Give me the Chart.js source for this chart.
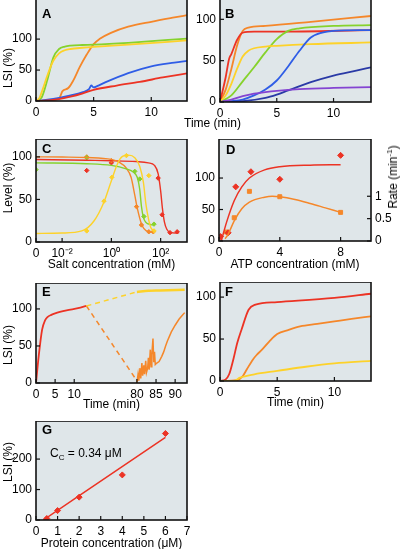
<!DOCTYPE html>
<html lang="en">
<head>
  <meta charset="UTF-8">
  <title>LSI panels A-G</title>
  <script src="https://cdn.jsdelivr.net/npm/chart.js"></script>
  <style>
    body { margin: 0; background: #fff; font-family: "Liberation Sans", Arial, sans-serif; }
    #wrap { position: relative; width: 400px; height: 549px; overflow: hidden; }
    canvas { position: absolute; }
    .lbl { position: absolute; font-size: 12px; line-height: 14px; color: #000; white-space: nowrap; }
    .rot { transform: translate(-50%, -50%) rotate(-90deg); }
    sub, sup { font-size: 8px; line-height: 0; }
  </style>
</head>
<body>
<div id="wrap">
  <canvas id="cA"></canvas>
  <canvas id="cB"></canvas>
  <canvas id="cC"></canvas>
  <canvas id="cD"></canvas>
  <canvas id="cE"></canvas>
  <canvas id="cF"></canvas>
  <canvas id="cG"></canvas>

  <div class="lbl" style="left:184px; top:116px;">Time (min)</div>
  <div class="lbl rot" style="left:8px; top:68px;">LSI (%)</div>
  <div class="lbl rot" style="left:8px; top:188px;">Level (%)</div>
  <div class="lbl rot" style="left:8px; top:345px;">LSI (%)</div>
  <div class="lbl rot" style="left:8px; top:462px;">LSI (%)</div>
  <div class="lbl rot" style="left:393px; top:177px;">Rate (min<sup>-1</sup>)</div>
  <div class="lbl" style="left:50px; top:446px;">C<sub>C</sub> = 0.34 μM</div>
</div>

<script>
  // colours
  const ORANGE = "#f5872a", RED = "#ec3324", GREEN = "#86d22c", YELLOW = "#fdd22a";
  const BLUE = "#2f5de6", NAVY = "#2a3aa6", PURPLE = "#8444d2";

  // ---- A : LSI (%) vs time (min)
  const aXTicks = [0, 5, 10], aYTicks = [0, 50, 100];
  const aGreen = [[0,0],[0.5,6],[1,35],[1.5,70],[2,84],[2.5,88],[3,89.5],[4,90.5],[5,91],[8,94],[13.2,101]];
  const aYellow = [[0,0],[0.3,5],[0.6,20],[1,42],[1.5,65],[2,77],[2.5,82],[3,84],[4,86],[5,87.5],[8,91],[13.2,98]];
  const aOrange = [[0,0],[1,1],[2,4],[2.3,16],[2.8,21],[3.2,32],[3.8,55],[4.4,75],[5,92],[5.5,100],[6.5,110],[8,120],[10,128],[12,135],[13.2,139]];
  const aBlue = [[0,0],[1,2],[2,5],[3,9],[4,14],[4.6,19],[4.8,25],[5,22],[5.3,24],[6,30],[8,45],[10,56],[12,62],[13.2,65]];
  const aRed = [[0,0],[1,1],[2,3],[3,7],[4,12],[5,18],[7,25],[9,31],[11,38],[13.2,45]];

  // ---- B
  const bXTicks = [0, 5, 10], bYTicks = [0, 50, 100];
  const bOrange = [[0,0],[0.5,15],[1,40],[1.5,68],[2,86],[2.5,90],[4,92],[8,97],[13.3,104]];
  const bRed = [[0,0],[0.5,30],[0.8,52],[1,58],[1.5,75],[2,84],[3,85],[5,85],[13.3,87]];
  const bGreen = [[0,0],[1,8],[2,25],[3,42],[4,60],[5,76],[6,86],[7,89],[10,92],[13.3,93]];
  const bYellow = [[0,0],[0.5,8],[1,22],[1.5,40],[2,55],[2.5,62],[3,65],[4,67],[5,68],[8,70],[13.3,72]];
  const bBlue = [[0,0],[1,1],[2,3],[3,8],[4,15],[5,26],[6,43],[7,62],[8,78],[9,84],[10,86],[13.3,87]];
  const bNavy = [[0,0],[2,1],[4,5],[5,9],[6,14],[8,24],[10,32],[12,38],[13.3,42]];
  const bPurple = [[0,0],[1,3],[2,7],[3,10],[4,12],[5,13.5],[7,15.5],[10,17],[13.3,18]];

  // ---- C : level vs salt (x = log10 mM, "0" drawn at -3.06)
  const cXTicks = [-3.06, -2, 0, 2], cXLabels = ["0", "10⁻²", "10⁰", "10²"], cYTicks = [0, 50, 100];
  const cOrangePts = [[-1,100],[0,95.6],[1.02,41.5],[1.22,20],[1.52,12],[1.7,12]];
  const cOrangeFit = [[-3.06,100],[-2,99.8],[-1,99.3],[0,97],[0.3,94],[0.6,87],[0.8,76],[0.95,55],[1.05,40],[1.15,28],[1.25,19],[1.4,13.5],[1.55,12],[1.7,11.5]];
  const cRedPts = [[-1,84],[0,93],[1.9,75],[2.06,32],[2.38,11],[2.67,12]];
  const cRedFit = [[-3.06,97],[-1,96],[0,95.5],[1,94.5],[1.5,93],[1.75,90],[1.9,80],[2,60],[2.07,40],[2.15,24],[2.25,15],[2.4,11],[2.6,10.5],[2.75,11]];
  const cGreenPts = [[-3.06,85],[-1,99],[0.95,83],[1.15,74],[1.32,30],[1.73,21]];
  const cGreenFit = [[-3.06,93],[-1,92],[0,90],[0.6,86],[0.9,82],[1.05,76],[1.15,62],[1.22,42],[1.3,29],[1.4,23],[1.6,20.5],[1.73,20]];
  const cYellowPts = [[-1,13],[-0.3,48],[0.02,76],[0.61,101.5],[1.52,78],[1.73,13]];
  const cYellowFit = [[-3.06,10],[-2,10.5],[-1.2,13],[-0.7,25],[-0.3,47],[0,72],[0.25,92],[0.45,100.5],[0.7,102],[0.95,99],[1.15,89],[1.3,70],[1.4,45],[1.5,28],[1.6,17],[1.73,13]];

  // ---- D : ATP concentration
  const dXTicks = [0, 4, 8], dYTicks = [0, 50, 100], dRateTicks = [0, 0.5, 1];
  const dLevelPts = [[0.1,7],[0.6,13],[1.1,86],[2.1,110],[4,98],[8,136]];
  const dLevelFit = [[0.15,0],[0.5,30],[1,64],[1.5,86],[2,100],[3,113],[4,118],[6,120.5],[8,121]];
  const dRatePts = [[0.5,0.2],[1,0.52],[2,1.11],[4,0.99],[8,0.64]];
  const dRateFit = [[0.4,0.05],[0.6,0.15],[1,0.45],[1.5,0.72],[2,0.87],[3,0.98],[3.5,1],[4,0.99],[5,0.93],[6,0.84],[7,0.74],[8,0.64]];

  // ---- E : broken time axis (0-15, 80-93)
  const eXTicks = [0, 5, 10, 80, 85, 90], eYTicks = [0, 50, 100];
  const eRed = [[0,0],[0.7,36],[1.6,72],[2.4,85],[3,89],[4,92],[5,94],[8,98],[11,101],[13.2,104]];
  const eYellowGap = [[13.2,104],[80,123]];
  const eYellow = [[80,123],[83,124.5],[86,125],[92.5,126]];
  const eOrangeGap = [[13.2,104],[80,3]];
  const eOrange = [[80,0],[80.3,12],[80.5,3],[80.8,20],[81,6],[81.3,27],[81.5,10],[81.8,24],[82,12],[82.3,30],[82.5,14],[82.8,20],[83,34],[83.2,18],[83.5,45],[83.7,22],[83.9,38],[84.2,60],[84.4,28],[84.6,42],[84.8,25],[85.2,27],[85.8,29],[86.5,36],[87,42],[87.5,50],[88,57],[88.5,63],[89,69],[90,78],[91,86],[92,92],[92.5,95]];

  // ---- F
  const fXTicks = [0, 5, 10], fYTicks = [0, 50, 100];
  const fRed = [[0,0],[0.5,2],[0.8,8],[1.17,26],[1.5,45],[1.9,62],[2.5,85],[3.1,91],[5,94],[10,99],[13.2,104]];
  const fOrange = [[0,0],[1.5,1],[2,6],[2.35,14],[2.9,26],[3.2,31],[3.65,37],[4.3,47],[5,56],[6,61],[7,65],[8.5,68],[10,71],[11.5,74],[13.2,77]];
  const fYellow = [[0,0],[1.2,0],[1.75,4],[3,8],[5,12],[7.5,17],[10,21],[13.2,24]];

  // ---- G : protein concentration
  const gXTicks = [0, 1, 2, 3, 4, 5, 6, 7], gYTicks = [0, 100, 200];
  const gPts = [[0.5,5],[1,31],[2,75],[4,148],[6,284]];
  const gFit = [[0.34,0],[6,271]];

  // time position on the broken E axis
  const brk = t => (t < 40 ? t : t - 53.6);

  Chart.defaults.font.family = '"Liberation Sans", Arial, sans-serif';
  Chart.defaults.font.size = 12;
  Chart.defaults.color = "#000";

  const framePlugin = {
    id: "frame",
    beforeDraw(chart) {
      const { ctx, chartArea: a } = chart;
      ctx.save();
      ctx.fillStyle = "#dfe6e9";
      ctx.fillRect(a.left, a.top, a.width, a.height);
      ctx.restore();
    },
    afterDraw(chart, args, opts) {
      const { ctx, chartArea: a } = chart;
      ctx.save();
      ctx.strokeStyle = "#111";
      ctx.lineWidth = 1.6;
      ctx.strokeRect(a.left, a.top, a.width, a.height);
      ctx.lineWidth = 1.2;
      Object.values(chart.scales).forEach(s => {
        s.ticks.forEach(t => {
          const p = s.getPixelForValue(t.value);
          ctx.beginPath();
          if (s.position === "bottom") { ctx.moveTo(p, a.bottom); ctx.lineTo(p, a.bottom - 4); }
          else if (s.position === "left") { ctx.moveTo(a.left, p); ctx.lineTo(a.left + 4, p); }
          else { ctx.moveTo(a.right, p); ctx.lineTo(a.right - 4, p); }
          ctx.stroke();
        });
      });
      if (opts.letter) {
        ctx.fillStyle = "#000";
        ctx.font = 'bold 13px "Liberation Sans", Arial, sans-serif';
        ctx.fillText(opts.letter, opts.lx, opts.ly);
      }
      ctx.restore();
    }
  };

  function xy(arr, f) {
    return arr.map(([x, y]) => ({ x: f ? f(x) : x, y }));
  }

  function line(arr, color, extra) {
    return Object.assign({
      data: xy(arr), borderColor: color, borderWidth: 1.8, pointRadius: 0,
      fill: false, cubicInterpolationMode: "monotone"
    }, extra);
  }

  function dots(arr, color, style, r, extra) {
    return Object.assign({
      data: xy(arr), showLine: false, pointStyle: style, pointRadius: r,
      backgroundColor: color, borderColor: color, borderWidth: 1
    }, extra);
  }

  function axis(pos, min, max, ticks, size, labels, title) {
    return {
      type: "linear", position: pos, min: min, max: max,
      grid: { display: false, drawTicks: false }, border: { display: false },
      afterBuildTicks: s => { s.ticks = ticks.map(v => ({ value: v })); },
      afterFit: s => {
        if (s.isHorizontal()) s.height = size; else s.width = size;
        s.paddingLeft = s.paddingRight = s.paddingTop = s.paddingBottom = 0;
      },
      ticks: {
        padding: 4, autoSkip: false, maxRotation: 0,
        callback: (v, i) => (labels ? labels[i] : v)
      },
      title: title ? { display: true, text: title, padding: { top: 0, bottom: 1 } } : { display: false }
    };
  }

  function panel(id, box, lw, rw, bh, scales, datasets, letter, lx, ly, hasRight) {
    const cv = document.getElementById(id);
    const left = box.l - lw;
    cv.width = box.r - box.l + lw + rw;
    cv.height = box.b - box.t + bh;
    cv.style.left = left + "px";
    cv.style.top = box.t + "px";
    return new Chart(cv, {
      type: "line",
      data: { datasets: datasets },
      options: {
        responsive: false,
        animation: false,
        layout: { autoPadding: false, padding: { right: hasRight ? 0 : rw } },
        scales: scales,
        plugins: {
          legend: { display: false },
          tooltip: { enabled: false },
          frame: { letter: letter, lx: lx - left, ly: ly - box.t }
        }
      },
      plugins: [framePlugin]
    });
  }

  // A
  panel("cA", { l: 36, t: -3, r: 187, b: 101 }, 36, 6, 20, {
    x: axis("bottom", 0, 13.1, aXTicks, 20),
    y: axis("left", 0, 168, aYTicks, 36)
  }, [
    line(aRed, RED), line(aBlue, BLUE), line(aYellow, YELLOW), line(aGreen, GREEN), line(aOrange, ORANGE)
  ], "A", 42, 18);

  // B
  panel("cB", { l: 220, t: -3, r: 371, b: 102 }, 28, 6, 20, {
    x: axis("bottom", 0, 13.3, bXTicks, 20),
    y: axis("left", 0, 127, bYTicks, 28)
  }, [
    line(bPurple, PURPLE), line(bNavy, NAVY), line(bBlue, BLUE), line(bYellow, YELLOW),
    line(bGreen, GREEN), line(bRed, RED), line(bOrange, ORANGE)
  ], "B", 225, 18);

  // C
  panel("cC", { l: 36, t: 139, r: 187, b: 242 }, 36, 6, 31, {
    x: axis("bottom", -3.06, 3.07, cXTicks, 31, cXLabels, "Salt concentration (mM)"),
    y: axis("left", 0, 121, cYTicks, 36)
  }, [
    line(cYellowFit, YELLOW, { borderWidth: 1.4 }), line(cGreenFit, GREEN, { borderWidth: 1.4 }),
    line(cOrangeFit, ORANGE, { borderWidth: 1.4 }), line(cRedFit, RED, { borderWidth: 1.4 }),
    dots(cYellowPts, YELLOW, "rectRot", 2.2), dots(cGreenPts, GREEN, "rectRot", 2.2),
    dots(cOrangePts, ORANGE, "rectRot", 2.2), dots(cRedPts, RED, "rectRot", 2.2)
  ], "C", 42, 153);

  // D
  panel("cD", { l: 219, t: 139, r: 371, b: 241 }, 28, 24, 32, {
    x: axis("bottom", 0, 10, dXTicks, 32, null, "ATP concentration (mM)"),
    y: axis("left", 0, 162, dYTicks, 28),
    y2: axis("right", 0, 2.28, dRateTicks, 24)
  }, [
    line(dLevelFit, RED, { borderWidth: 1.5 }),
    line(dRateFit, ORANGE, { borderWidth: 1.5, yAxisID: "y2" }),
    dots(dLevelPts, RED, "rectRot", 3),
    dots(dRatePts, ORANGE, "rect", 2.8, { yAxisID: "y2" })
  ], "D", 226, 154, true);

  // E
  const eSeg = (arr, color, extra) => Object.assign(line(arr, color, extra), { data: xy(arr, brk) });
  panel("cE", { l: 36, t: 283, r: 187, b: 383 }, 36, 6, 30, {
    x: axis("bottom", 0, 39.5, eXTicks.map(brk), 30, eXTicks, "Time (min)"),
    y: axis("left", 0, 135, eYTicks, 36)
  }, [
    eSeg(eYellowGap, YELLOW, { borderDash: [5, 4], borderWidth: 1.5 }),
    eSeg(eOrangeGap, ORANGE, { borderDash: [5, 4], borderWidth: 1.5 }),
    eSeg(eYellow, YELLOW, { borderWidth: 2.5 }),
    eSeg(eOrange, ORANGE, { cubicInterpolationMode: "default", tension: 0, borderWidth: 1.5 }),
    eSeg(eRed, RED)
  ], "E", 42, 296);

  // F
  panel("cF", { l: 220, t: 282, r: 371, b: 381 }, 28, 6, 30, {
    x: axis("bottom", 0, 13.2, fXTicks, 30, null, "Time (min)"),
    y: axis("left", 0, 118, fYTicks, 28)
  }, [
    line(fYellow, YELLOW), line(fOrange, ORANGE), line(fRed, RED)
  ], "F", 225, 296);

  // G
  panel("cG", { l: 36, t: 421, r: 187, b: 520 }, 36, 6, 32, {
    x: axis("bottom", 0, 7, gXTicks, 32, null, "Protein concentration (μM)"),
    y: axis("left", 0, 325, gYTicks, 36)
  }, [
    line(gFit, RED, { borderWidth: 1.5 }),
    dots(gPts, RED, "rectRot", 3)
  ], "G", 42, 434);
</script>
</body>
</html>
